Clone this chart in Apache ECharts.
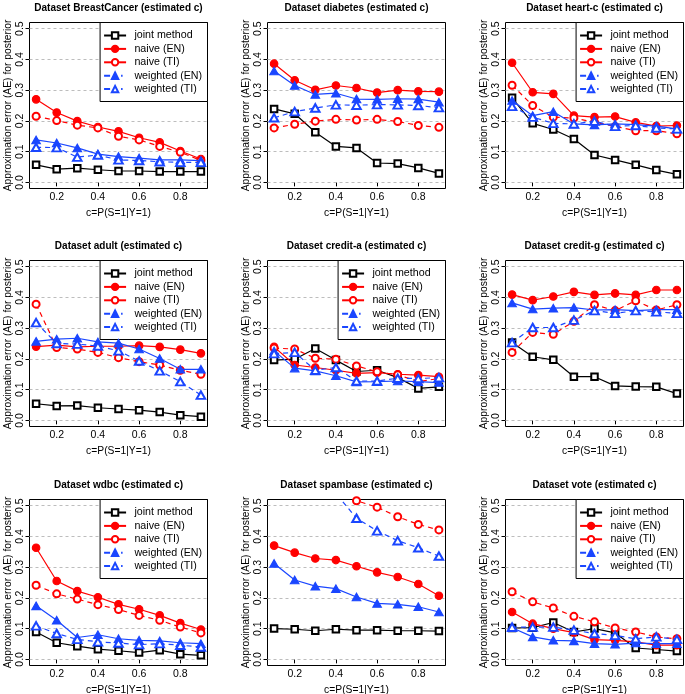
<!DOCTYPE html>
<html>
<head>
<meta charset="utf-8">
<script src="https://cdn.jsdelivr.net/npm/echarts@6/dist/echarts.min.js"></script>
<style>
html, body { margin: 0; padding: 0; background: #fff; }
#chart { width: 685px; height: 694px; }
</style>
</head>
<body>
<div id="chart"></div>
<script>
// ---------------- data ----------------
const C_VALUES = [0.1, 0.2, 0.3, 0.4, 0.5, 0.6, 0.7, 0.8, 0.9];
const X_TICKS = [0.2, 0.4, 0.6, 0.8];
const Y_TICKS = [0.0, 0.1, 0.2, 0.3, 0.4, 0.5];
const METHOD_NAMES = ['joint method', 'naive (EN)', 'naive (TI)', 'weighted (EN)', 'weighted (TI)'];
const DATASET_NAMES = ['BreastCancer', 'diabetes', 'heart-c', 'adult', 'credit-a', 'credit-g', 'wdbc', 'spambase', 'vote'];
const DATASETS_WITH_LEGEND = ['BreastCancer', 'heart-c', 'adult', 'credit-a', 'wdbc', 'vote'];

// rows: joint method, naive (EN), naive (TI), weighted (EN), weighted (TI)
const aeBreastCancer = [
  [0.057, 0.043, 0.046, 0.041, 0.037, 0.037, 0.035, 0.035, 0.035],
  [0.270, 0.227, 0.199, 0.180, 0.166, 0.145, 0.130, 0.102, 0.076],
  [0.215, 0.201, 0.186, 0.177, 0.150, 0.138, 0.117, 0.098, 0.071],
  [0.138, 0.128, 0.112, 0.092, 0.084, 0.079, 0.073, 0.073, 0.071],
  [0.114, 0.113, 0.082, 0.089, 0.073, 0.071, 0.067, 0.065, 0.065]
];
const aeDiabetes = [
  [0.239, 0.223, 0.163, 0.117, 0.112, 0.063, 0.061, 0.047, 0.029],
  [0.386, 0.332, 0.301, 0.315, 0.307, 0.292, 0.300, 0.296, 0.295],
  [0.177, 0.189, 0.199, 0.205, 0.203, 0.205, 0.198, 0.185, 0.179],
  [0.362, 0.315, 0.286, 0.290, 0.271, 0.270, 0.272, 0.271, 0.261],
  [0.210, 0.230, 0.242, 0.252, 0.251, 0.253, 0.252, 0.250, 0.243]
];
const aeHeartC = [
  [0.275, 0.192, 0.172, 0.141, 0.089, 0.073, 0.057, 0.040, 0.026],
  [0.389, 0.293, 0.288, 0.217, 0.212, 0.214, 0.195, 0.183, 0.185],
  [0.316, 0.250, 0.212, 0.209, 0.196, 0.182, 0.168, 0.168, 0.158],
  [0.266, 0.217, 0.230, 0.190, 0.187, 0.190, 0.188, 0.183, 0.174],
  [0.247, 0.212, 0.192, 0.190, 0.199, 0.182, 0.185, 0.177, 0.174]
];
const aeAdult = [
  [0.054, 0.047, 0.048, 0.041, 0.037, 0.033, 0.027, 0.017, 0.012],
  [0.240, 0.245, 0.239, 0.241, 0.241, 0.243, 0.239, 0.230, 0.218],
  [0.378, 0.237, 0.232, 0.221, 0.204, 0.191, 0.180, 0.163, 0.150],
  [0.257, 0.264, 0.267, 0.255, 0.251, 0.232, 0.201, 0.166, 0.166],
  [0.318, 0.250, 0.248, 0.242, 0.226, 0.193, 0.161, 0.126, 0.082]
];
const aeCreditA = [
  [0.196, 0.199, 0.234, 0.196, 0.159, 0.163, 0.139, 0.104, 0.109],
  [0.239, 0.180, 0.172, 0.163, 0.153, 0.155, 0.150, 0.147, 0.142],
  [0.235, 0.232, 0.202, 0.199, 0.177, 0.158, 0.148, 0.126, 0.136],
  [0.226, 0.170, 0.161, 0.145, 0.125, 0.126, 0.128, 0.126, 0.123],
  [0.217, 0.221, 0.163, 0.172, 0.128, 0.128, 0.137, 0.136, 0.139]
];
const aeCreditG = [
  [0.253, 0.207, 0.197, 0.142, 0.142, 0.112, 0.110, 0.109, 0.087],
  [0.409, 0.391, 0.403, 0.418, 0.408, 0.413, 0.408, 0.424, 0.424],
  [0.221, 0.286, 0.280, 0.322, 0.376, 0.357, 0.389, 0.359, 0.376],
  [0.382, 0.362, 0.365, 0.367, 0.359, 0.360, 0.357, 0.360, 0.360],
  [0.253, 0.302, 0.302, 0.326, 0.357, 0.348, 0.357, 0.353, 0.348]
];
const aeWdbc = [
  [0.089, 0.054, 0.043, 0.033, 0.028, 0.022, 0.030, 0.017, 0.013],
  [0.363, 0.255, 0.222, 0.202, 0.179, 0.163, 0.143, 0.118, 0.097],
  [0.241, 0.213, 0.196, 0.178, 0.162, 0.143, 0.127, 0.105, 0.086],
  [0.174, 0.127, 0.071, 0.080, 0.067, 0.062, 0.060, 0.054, 0.051],
  [0.109, 0.084, 0.065, 0.057, 0.053, 0.048, 0.051, 0.046, 0.040]
];
const aeSpambase = [
  [0.100, 0.098, 0.093, 0.098, 0.095, 0.095, 0.093, 0.093, 0.092],
  [0.370, 0.347, 0.328, 0.323, 0.303, 0.283, 0.268, 0.245, 0.207],
  [0.720, 0.660, 0.610, 0.560, 0.516, 0.495, 0.464, 0.439, 0.421],
  [0.312, 0.258, 0.238, 0.230, 0.203, 0.182, 0.179, 0.171, 0.154],
  [0.700, 0.640, 0.590, 0.540, 0.459, 0.418, 0.386, 0.363, 0.336]
];
const aeVote = [
  [0.102, 0.103, 0.120, 0.089, 0.100, 0.086, 0.037, 0.032, 0.027],
  [0.154, 0.116, 0.100, 0.087, 0.064, 0.062, 0.057, 0.046, 0.046],
  [0.220, 0.187, 0.167, 0.140, 0.122, 0.102, 0.089, 0.073, 0.067],
  [0.103, 0.073, 0.062, 0.060, 0.051, 0.049, 0.053, 0.051, 0.051],
  [0.105, 0.105, 0.105, 0.095, 0.084, 0.078, 0.067, 0.073, 0.065]
];
const AE_TABLES = [aeBreastCancer, aeDiabetes, aeHeartC, aeAdult, aeCreditA, aeCreditG, aeWdbc, aeSpambase, aeVote];

// ---------------- styles / layout ----------------
const FONT = "'Liberation Sans', Arial, Helvetica, sans-serif";
const RED = '#ff0000';
const BLUE = '#1a46ff';
const METHOD_STYLES = [
  { color: '#000000', symbol: 'emptyRect',     size: 6.5,      dash: 'solid' },
  { color: RED,       symbol: 'circle',        size: 7.5,      dash: 'solid' },
  { color: RED,       symbol: 'emptyCircle',   size: 7,        dash: [5, 4] },
  { color: BLUE,      symbol: 'triangle',      size: [8.5, 7.5], dash: 'solid' },
  { color: BLUE,      symbol: 'emptyTriangle', size: [8.5, 7.5], dash: [5, 4] }
];
const LEGEND_LINE_TYPES = ['solid', 'solid', 'solid', [6, 11, 1.5, 10], [6, 11, 1.5, 10]];
const COL_LEFT = [29.5, 267.5, 505.5];
const ROW_TOP = [22.5, 260.5, 499.5];
const PLOT_W = 178;
const PLOT_H = 166;
const CHART_W = 685;

const grids = [], xAxes = [], yAxes = [], series = [], titles = [], legends = [];

DATASET_NAMES.forEach((ds, i) => {
  const col = i % 3, row = Math.floor(i / 3);
  const left = COL_LEFT[col], top = ROW_TOP[row];
  grids.push({
    left: left, top: top, width: PLOT_W, height: PLOT_H,
    show: true, borderColor: '#000', borderWidth: 1, backgroundColor: 'transparent',
    containLabel: false, outerBoundsMode: 'none'
  });
  titles.push({
    text: 'Dataset ' + ds + ' (estimated c)',
    left: left + PLOT_W / 2, top: top - 19.5, textAlign: 'center', padding: 0,
    textStyle: { fontSize: 10, fontWeight: 'bold', fontFamily: FONT, color: '#000' }
  });
  xAxes.push({
    type: 'value', gridIndex: i, min: 0.068, max: 0.932,
    axisLine: { show: false },
    axisTick: { show: true, customValues: X_TICKS, length: 4, lineStyle: { color: '#000', width: 1 } },
    axisLabel: { customValues: X_TICKS, formatter: v => v.toFixed(1), fontSize: 10.5, fontFamily: FONT, color: '#000', margin: 3 },
    splitLine: { show: false },
    name: 'c=P(S=1|Y=1)', nameLocation: 'middle', nameGap: 19.5,
    nameTextStyle: { fontSize: 10.3, fontFamily: FONT, color: '#000' }
  });
  yAxes.push({
    type: 'value', gridIndex: i, min: -0.02, max: 0.52,
    axisLine: { show: false },
    axisTick: { show: true, customValues: Y_TICKS, length: 4, lineStyle: { color: '#000', width: 1 } },
    axisLabel: { customValues: Y_TICKS, rotate: 90, formatter: v => v.toFixed(1), fontSize: 10.5, fontFamily: FONT, color: '#000', margin: 4 },
    splitLine: { show: false },
    name: 'Approximation error (AE) for posterior', nameLocation: 'middle', nameRotate: 90, nameGap: 13.5,
    nameTextStyle: { fontSize: 10.3, fontFamily: FONT, color: '#000' }
  });
  const table = AE_TABLES[i];
  METHOD_NAMES.forEach((m, j) => {
    const st = METHOD_STYLES[j];
    const s = {
      type: 'line', name: m, xAxisIndex: i, yAxisIndex: i,
      data: C_VALUES.map((c, k) => [c, table[j][k]]),
      symbol: st.symbol, symbolSize: st.size, showAllSymbol: true,
      lineStyle: { color: st.color, width: 1.2, type: st.dash },
      itemStyle: { color: st.color, borderColor: st.color, borderWidth: 1.15 },
      clip: true, z: 2 + j, silent: true,
      emphasis: { disabled: true }
    };
    if (j === 0) {
      s.markLine = {
        silent: true, symbol: 'none', z: 1,
        label: { show: false },
        lineStyle: { color: '#bdbdbd', type: [3, 3], width: 1 },
        emphasis: { disabled: true },
        data: Y_TICKS.map(v => ({ yAxis: v }))
      };
    }
    series.push(s);
  });
  if (DATASETS_WITH_LEGEND.indexOf(ds) >= 0) {
    legends.push({
      orient: 'vertical',
      right: CHART_W - (left + PLOT_W), top: top,
      itemWidth: 22, itemHeight: 8, itemGap: 0,
      padding: [6.3, 5.4, 5.7, 3],
      borderColor: '#000', borderWidth: 1, backgroundColor: '#fff',
      selectedMode: false,
      textStyle: { fontSize: 10.7, fontFamily: FONT, color: '#000', lineHeight: 13.4, padding: [0, 0, 0, 3.3] },
      data: METHOD_NAMES.map((m, j) => ({ name: m, lineStyle: { type: LEGEND_LINE_TYPES[j] } }))
    });
  }
});

const chart = echarts.init(document.getElementById('chart'), null, { renderer: 'canvas' });
chart.setOption({
  animation: false,
  backgroundColor: '#fff',
  textStyle: { fontFamily: FONT },
  title: titles,
  legend: legends,
  grid: grids,
  xAxis: xAxes,
  yAxis: yAxes,
  series: series
});
</script>
</body>
</html>
